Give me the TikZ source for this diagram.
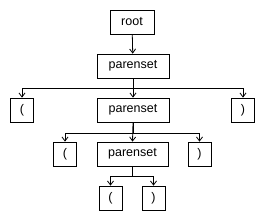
\documentclass[tikz,border=0pt]{standalone}
\usepackage{fontspec}
\setmainfont{Liberation Sans}
\usetikzlibrary{arrows.meta}

\begin{document}
\begin{tikzpicture}[
    x=1pt, y=-1pt,
    box/.style={rectangle, draw, line width=0.8pt, inner sep=0pt, minimum height=24pt, font=\fontsize{12.5}{14}\selectfont},
    leaf/.style={box, minimum width=23pt},
    >={Straight Barb[length=4pt, width=6pt]}
]
    \useasboundingbox (0,0) rectangle (264,220);

    \node[box, minimum width=44pt] (root) at (132, 22) {root};

    \node[box, minimum width=72pt] (ps1) at (133, 66) {parenset};

    \node[leaf] (lp1) at (22, 110) {(};
    \node[box, minimum width=72pt] (ps2) at (133, 110) {parenset};
    \node[leaf] (rp1) at (243, 110) {)};

    \node[leaf] (lp2) at (65, 154) {(};
    \node[box, minimum width=71pt] (ps3) at (132.5, 154) {parenset};
    \node[leaf] (rp2) at (199.5, 154) {)};

    \node[leaf] (lp3) at (110.5, 198) {(};
    \node[leaf] (rp3) at (153.5, 198) {)};

    \draw[->, line width=0.8pt] (root) -- (ps1);

    \draw[->, line width=0.8pt] (ps1.south) -- ++(0,10) -| (lp1.north);
    \draw[->, line width=0.8pt] (ps1.south) -- (ps2.north);
    \draw[->, line width=0.8pt] (ps1.south) -- ++(0,10) -| (rp1.north);

    \draw[->, line width=0.8pt] (ps2.south) -- ++(0,11) -| (lp2.north);
    \draw[->, line width=0.8pt] (ps2.south) -- (ps3.north);
    \draw[->, line width=0.8pt] (ps2.south) -- ++(0,11) -| (rp2.north);

    \draw[->, line width=0.8pt] (ps3.south) -- ++(0,10) -| (lp3.north);
    \draw[->, line width=0.8pt] (ps3.south) -- ++(0,10) -| (rp3.north);
\end{tikzpicture}
\end{document}
